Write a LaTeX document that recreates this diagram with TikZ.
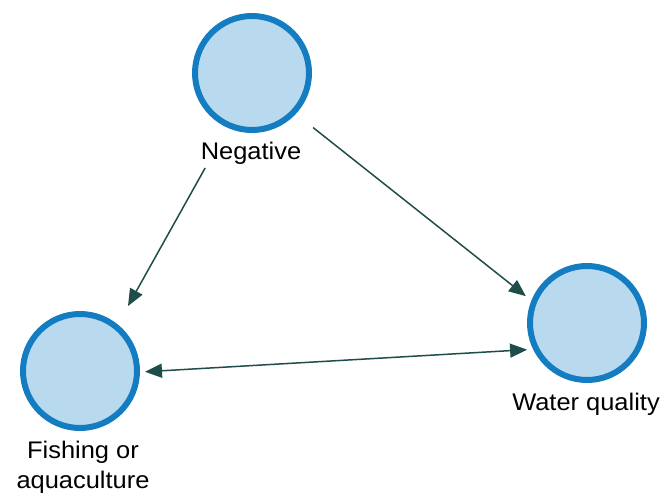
\documentclass[tikz,border=0pt]{standalone}
\usepackage{fontspec}
\setmainfont{Liberation Sans}
\usetikzlibrary{arrows.meta}
\definecolor{ringblue}{HTML}{147DC2}
\definecolor{fillblue}{HTML}{B9D9EE}
\definecolor{arrowcol}{HTML}{1E4D4A}
\begin{document}
\begin{tikzpicture}[x=1pt,y=-1pt,
  concept/.style={circle,draw=ringblue,fill=fillblue,line width=6pt,minimum size=114pt,inner sep=0pt},
  lbl/.style={anchor=base,inner sep=0pt,font=\fontsize{24}{30}\selectfont,xscale=1.06},
  arr/.style={draw=arrowcol,line width=1.5pt,-{Triangle[length=17pt,width=14pt]}},
  biarr/.style={draw=arrowcol,line width=1.5pt,{Triangle[length=17pt,width=14pt]}-{Triangle[length=17pt,width=14pt]}}]
\useasboundingbox (0,0) rectangle (669,497);
\node[concept] (neg) at (252,73) {};
\node[concept] (fish) at (80,371) {};
\node[concept] (water) at (587,323) {};
\node[lbl] (negl) at (251,160) {Negative};
\node[lbl] (waterl) at (586,410) {Water quality};
\node[lbl] (fishl1) at (83,458) {Fishing or};
\node[lbl] (fishl2) at (83,488) {aquaculture};
\draw[arr,shorten <=46pt,shorten >=21pt] (neg.246.6) -- (fish.51);
\draw[arr,shorten <=22pt,shorten >=7pt] (neg.-43.5) -- (water.158);
\draw[biarr,shorten <=5pt,shorten >=6pt] (fish.-1) -- (water.206);
\end{tikzpicture}
\end{document}
